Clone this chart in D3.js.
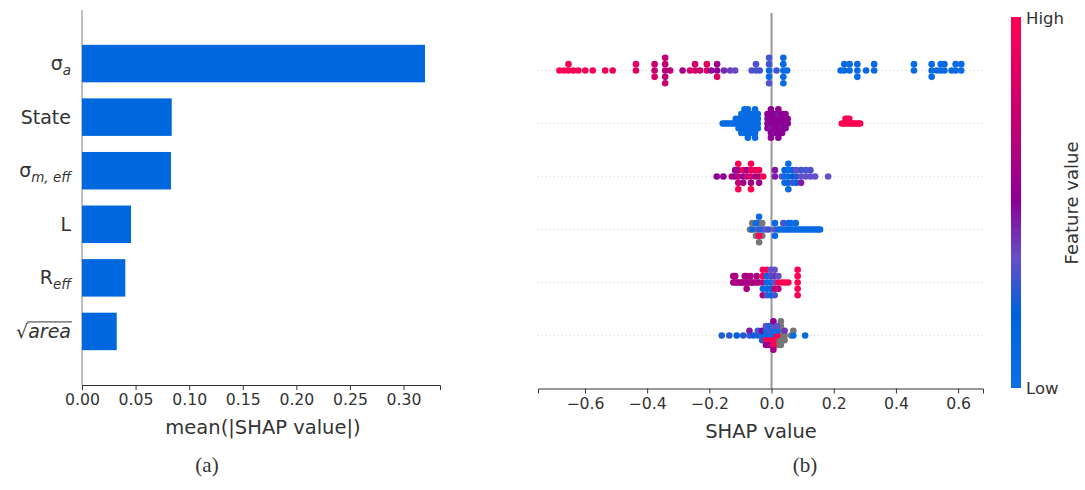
<!DOCTYPE html>
<html>
<head>
<meta charset="utf-8">
<script src="https://cdn.jsdelivr.net/npm/d3@7"></script>
<style>
body { margin: 0; background: #fff; }
text { font-family: "DejaVu Sans", sans-serif; fill: #333; }
</style>
</head>
<body>
<script>
// feature order (top to bottom) and mean |SHAP| for panel (a)
var features = ["sigma_a", "State", "sigma_m_eff", "L", "R_eff", "sqrt_area"];
var meanAbs = [0.320, 0.0837, 0.0830, 0.0457, 0.0404, 0.0324];
var barTicks = [0, 0.05, 0.10, 0.15, 0.20, 0.25, 0.30];
var shapTicks = [-0.6, -0.4, -0.2, 0.0, 0.2, 0.4, 0.6];

// panel (b) points: [shap value, feature value 0 (low) .. 1 (high), null = missing]
var ptsSigmaA = [
  [-0.682,1],[-0.667,1],[-0.653,0.98],[-0.653,0.97],[-0.637,0.97],[-0.621,0.96],[-0.599,0.96],[-0.575,0.95],
  [-0.535,0.93],[-0.511,0.93],[-0.436,0.88],[-0.436,0.88],
  [-0.376,0.72],[-0.376,0.74],[-0.376,0.8],
  [-0.342,0.68],[-0.342,0.72],[-0.342,0.66],[-0.342,0.72],[-0.342,0.74],[-0.326,0.7],
  [-0.286,0.6],[-0.262,0.78],[-0.246,0.8],[-0.246,0.78],[-0.230,0.76],
  [-0.208,0.86],[-0.208,0.84],
  [-0.194,0.48],[-0.175,0.5],[-0.175,0.55],[-0.175,0.85],[-0.153,0.42],
  [-0.133,0.38],[-0.117,0.36],
  [-0.064,0.32],[-0.050,0.3],[-0.050,0.32],[-0.038,0.3],
  [-0.008,0.1],[-0.008,0.3],[-0.008,0.05],[-0.008,0.3],[-0.008,0.32],
  [0.016,0.3],
  [0.038,0.05],[0.038,0.05],[0.038,0.05],[0.038,0.08],[0.038,0.05],[0.050,0.05],
  [0.222,0.05],[0.234,0.05],[0.234,0.05],[0.251,0.05],[0.251,0.05],[0.276,0.05],[0.276,0.05],[0.276,0.05],
  [0.304,0.05],[0.330,0.05],[0.330,0.05],[0.458,0.05],[0.458,0.05],
  [0.515,0.05],[0.515,0.05],[0.515,0.05],[0.531,0.05],[0.544,0.05],[0.544,0.05],[0.556,0.05],[0.556,0.05],
  [0.579,0.05],[0.592,0.05],[0.592,0.05],[0.610,0.05],[0.610,0.05]
];
var ptsState = [
  [-0.157,0.05],[-0.150,0.05],[-0.143,0.05],[-0.136,0.05],[-0.129,0.05],[-0.122,0.05],[-0.115,0.05],[-0.115,0.05],
  [-0.106,0.05],[-0.106,0.05],[-0.106,0.05],
  [-0.097,0.05],[-0.097,0.05],[-0.097,0.05],[-0.097,0.05],[-0.097,0.05],
  [-0.087,0.05],[-0.087,0.05],[-0.087,0.05],[-0.087,0.05],[-0.087,0.05],[-0.087,0.05],
  [-0.076,0.05],[-0.076,0.05],[-0.076,0.05],[-0.076,0.05],[-0.076,0.05],[-0.076,0.05],[-0.076,0.05],
  [-0.064,0.05],[-0.064,0.05],[-0.064,0.05],[-0.064,0.05],[-0.064,0.05],
  [-0.053,0.05],[-0.053,0.05],[-0.053,0.05],[-0.053,0.05],[-0.053,0.05],[-0.053,0.05],[-0.053,0.05],
  [-0.044,0.05],[-0.044,0.05],[-0.044,0.05],[-0.044,0.05],
  [-0.013,0.5],[-0.013,0.48],[-0.013,0.5],[-0.013,0.52],
  [-0.002,0.5],[-0.002,0.5],[-0.002,0.46],[-0.002,0.5],[-0.002,0.52],[-0.002,0.5],[-0.002,0.5],
  [0.010,0.5],[0.010,0.5],[0.010,0.54],[0.010,0.5],[0.010,0.48],
  [0.022,0.5],[0.022,0.5],[0.022,0.5],[0.022,0.46],[0.022,0.5],[0.022,0.52],[0.022,0.5],
  [0.034,0.5],[0.034,0.5],[0.034,0.48],[0.034,0.5],[0.034,0.5],
  [0.045,0.5],[0.045,0.5],[0.045,0.5],[0.045,0.52],
  [0.052,0.5],[0.052,0.5],
  [0.226,1],[0.232,1],[0.238,1],[0.238,1],[0.244,1],[0.244,1],[0.250,1],[0.250,1],
  [0.256,1],[0.262,1],[0.268,1],[0.274,1],[0.280,1],[0.285,1]
];
var ptsSigmaMeff = [
  [-0.176,0.5],[-0.155,0.5],[-0.128,0.65],[-0.117,0.5],[-0.117,0.55],
  [-0.107,0.7],[-0.107,0.6],[-0.107,0.7],[-0.107,1],[-0.107,1],
  [-0.091,0.5],[-0.091,0.95],[-0.091,0.6],
  [-0.079,0.75],[-0.079,0.55],
  [-0.066,0.8],[-0.066,0.9],[-0.066,0.55],[-0.066,1],[-0.066,1],
  [-0.052,0.6],[-0.052,0.9],
  [-0.040,0.6],[-0.040,0.95],[-0.040,0.55],
  [-0.027,1],
  [0.011,0.45],[0.011,0.45],[0.033,0.35],
  [0.042,0.05],[0.042,0.1],[0.042,0.05],
  [0.054,0.05],[0.054,0.05],[0.054,0.1],[0.054,0.05],[0.054,0.05],
  [0.068,0.2],[0.068,0.1],[0.068,0.3],
  [0.080,0.25],[0.080,0.35],[0.080,0.1],
  [0.095,0.35],[0.095,0.3],[0.095,0.45],
  [0.110,0.35],[0.110,0.3],[0.125,0.35],[0.125,0.32],[0.140,0.35],[0.182,0.35]
];
var ptsL = [
  [-0.069,null],[-0.062,0.05],[-0.062,null],
  [-0.050,null],[-0.050,0.05],[-0.050,null],
  [-0.040,0.3],[-0.040,null],[-0.040,1],[-0.040,0.05],[-0.040,null],
  [-0.030,0.05],[-0.030,null],[-0.030,null],
  [-0.020,0.35],[-0.010,0.3],
  [0.011,0.35],[0.011,0.05],[0.011,0.05],
  [0.022,0.05],[0.030,0.05],[0.038,0.05],[0.038,0.3],[0.046,0.05],[0.054,0.05],[0.054,0.05],
  [0.062,0.05],[0.062,0.05],[0.070,0.05],[0.078,0.05],[0.078,0.05],[0.086,0.05],
  [0.094,0.05],[0.102,0.05],[0.110,0.05],[0.118,0.05],[0.126,0.05],[0.134,0.05],
  [0.142,0.05],[0.150,0.05],[0.156,0.05]
];
var ptsReff = [
  [-0.123,0.62],[-0.123,0.62],[-0.117,0.62],[-0.117,0.62],[-0.110,0.62],[-0.104,0.62],[-0.098,0.62],
  [-0.092,0.62],[-0.086,0.62],[-0.086,0.62],[-0.080,0.62],[-0.080,0.62],[-0.080,0.62],[-0.074,0.62],
  [-0.068,0.62],[-0.068,0.62],[-0.062,0.62],[-0.056,0.62],[-0.048,0.62],[-0.048,0.62],[-0.040,0.62],
  [-0.028,0.7],[-0.028,1],[-0.028,0.05],[-0.028,1],[-0.028,0.65],
  [-0.015,0.05],[-0.015,0.1],[-0.015,0.05],[-0.015,1],[-0.015,0.3],
  [-0.003,0.05],[-0.003,0.3],[-0.003,0.05],[-0.003,0.35],[-0.003,0.05],
  [0.010,0.35],[0.010,0.4],[0.010,0.7],[0.010,0.35],[0.010,0.3],
  [0.022,1],[0.022,0.35],[0.022,0.7],
  [0.034,1],[0.044,1],[0.054,1],
  [0.084,1],[0.084,1],[0.084,1],[0.084,1],[0.084,1]
];
var ptsSqrtArea = [
  [-0.160,0.25],[-0.136,0.25],[-0.112,0.2],[-0.091,0.25],[-0.071,0.3],[-0.071,0.45],
  [-0.058,0.2],[-0.044,0.25],[-0.044,0.3],
  [-0.030,0.05],[-0.030,0.5],[-0.030,0.25],
  [-0.018,0.05],[-0.018,0.05],[-0.018,1],[-0.018,0.35],[-0.018,0.55],
  [-0.006,0.05],[-0.006,0.3],[-0.006,1],[-0.006,0.05],[-0.006,0.55],
  [0.006,0.05],[0.006,0.05],[0.006,1],[0.006,0.35],[0.006,1],[0.006,0.5],[0.006,0.6],
  [0.018,1],[0.018,0.05],[0.018,null],[0.018,0.35],[0.018,null],
  [0.030,null],[0.030,null],[0.030,null],[0.030,null],[0.030,null],[0.030,null],
  [0.042,null],[0.042,0.4],[0.042,null],
  [0.063,null],[0.070,0.05],[0.070,null],[0.108,0.05]
];
var shapPoints = [ptsSigmaA, ptsState, ptsSigmaMeff, ptsL, ptsReff, ptsSqrtArea];

// label pieces: [text, kind] 0 = normal, 1 = subscript, 2 = under the radical
var labelParts = [
  [["σ", 0], ["a", 1]],
  [["State", 0]],
  [["σ", 0], ["m, eff", 1]],
  [["L", 0]],
  [["R", 0], ["eff", 1]],
  [["√", 0], ["area", 2]]
];

var svg = d3.select("body").append("svg")
    .attr("width", 1085)
    .attr("height", 490);

var N = features.length;

//---------------- panel (a): bar chart ----------------
var xa = d3.scaleLinear().domain([0, 0.334]).range([82, 440]);
var ya = d3.scaleLinear().domain([-1, N]).range([385, 10]);

svg.append("line")
    .attr("x1", xa(0)).attr("x2", xa(0))
    .attr("y1", ya(N)).attr("y2", ya(-1))
    .attr("stroke", "#aaa").attr("stroke-width", 1.5);

svg.selectAll(".bar")
    .data(meanAbs)
    .enter().append("rect")
    .attr("class", "bar")
    .attr("x", xa(0))
    .attr("y", function(d, i) { return ya(N - 1 - i + 0.35); })
    .attr("width", function(d) { return xa(d) - xa(0); })
    .attr("height", ya(0) - ya(0.7))
    .attr("fill", "#0068df");

var axA = svg.append("g")
    .attr("transform", "translate(0," + ya(-1) + ")")
    .call(d3.axisBottom(xa).tickValues(barTicks).tickFormat(d3.format(".2f")).tickSize(5).tickPadding(4));
axA.select(".domain").attr("stroke", "#333");
axA.selectAll(".tick line").attr("stroke", "#333");
axA.selectAll(".tick text").style("font-size", "15.7px").attr("fill", "#333");

svg.append("text")
    .attr("x", 263).attr("y", 434)
    .attr("text-anchor", "middle")
    .style("font-size", "19.5px")
    .text("mean(|SHAP value|)");

// feature labels with subscripts
labelParts.forEach(function(parts, i) {
    var t = svg.append("text")
        .attr("x", 71)
        .attr("y", ya(N - 1 - i) + 6.5)
        .attr("text-anchor", "end")
        .style("font-size", "19px");
    parts.forEach(function(p) {
        var sp = t.append("tspan").text(p[0]);
        if (p[1] == 1) sp.attr("dy", 5).style("font-size", "13.5px").style("font-style", "italic");
        if (p[1] == 2) sp.style("font-style", "italic").attr("class", "over");
    });
    var ov = t.select(".over");
    if (!ov.empty()) {
        var len = ov.node().getComputedTextLength();
        svg.append("line")
            .attr("x1", 71 - len - 1).attr("x2", 71 + 1)
            .attr("y1", ya(N - 1 - i) - 9.5).attr("y2", ya(N - 1 - i) - 9.5)
            .attr("stroke", "#333").attr("stroke-width", 1);
    }
});

//---------------- panel (b): beeswarm ----------------
var xb = d3.scaleLinear().domain([-0.751, 0.680]).range([538, 983]);
var yb = d3.scaleLinear().domain([-1, N]).range([388.5, 17.5]);

var fvColor = d3.scaleLinear()
    .domain([0, 0.2, 0.35, 0.5, 0.7, 1])
    .range(["#0a6ee6", "#0060dc", "#6450c8", "#8c0096", "#c00074", "#ff0052"]);

// shap-style vertical layering within bins
function swarm(pts) {
    var vals = pts.map(function(p) { return p[0]; });
    var lo = d3.min(vals), hi = d3.max(vals);
    var quant = vals.map(function(v) { return Math.round(100 * (v - lo) / (hi - lo + 1e-8)); });
    var order = d3.range(pts.length).sort(function(a, b) { return quant[a] - quant[b] || a - b; });
    var ys = pts.map(function() { return 0; }), layer = 0, last = -1;
    order.forEach(function(i) {
        if (quant[i] !== last) layer = 0;
        ys[i] = Math.ceil(layer / 2) * ((layer % 2) * 2 - 1);
        layer++;
        last = quant[i];
    });
    var k = 0.9 * 0.4 / (d3.max(ys) + 1);
    return pts.map(function(p, i) { return {shap: p[0], fv: p[1], dy: ys[i] * k}; });
}

// dotted row guides
svg.selectAll(".guide")
    .data(features)
    .enter().append("line")
    .attr("x1", 538).attr("x2", 983)
    .attr("y1", function(d, i) { return yb(N - 1 - i); })
    .attr("y2", function(d, i) { return yb(N - 1 - i); })
    .attr("stroke", "#d4d4d4").attr("stroke-width", 1)
    .attr("stroke-dasharray", "1,3");

svg.append("line")
    .attr("x1", xb(0)).attr("x2", xb(0))
    .attr("y1", 13).attr("y2", yb(-1))
    .attr("stroke", "#999").attr("stroke-width", 2);

shapPoints.forEach(function(pts, i) {
    var pos = N - 1 - i;
    var sw = swarm(pts);
    var nan = sw.filter(function(d) { return d.fv === null; });
    var col = sw.filter(function(d) { return d.fv !== null; });
    svg.append("g").selectAll("circle")
        .data(nan.concat(col))
        .enter().append("circle")
        .attr("cx", function(d) { return xb(d.shap); })
        .attr("cy", function(d) { return yb(pos + d.dy); })
        .attr("r", 3.3)
        .attr("fill", function(d) { return d.fv === null ? "#777" : fvColor(d.fv); });
});

var axB = svg.append("g")
    .attr("transform", "translate(0," + yb(-1) + ")")
    .call(d3.axisBottom(xb).tickValues(shapTicks).tickFormat(d3.format(".1f")).tickSize(5).tickPadding(4));
axB.select(".domain").attr("stroke", "#333");
axB.selectAll(".tick line").attr("stroke", "#333");
axB.selectAll(".tick text").style("font-size", "15.7px").attr("fill", "#333");

svg.append("text")
    .attr("x", 761).attr("y", 438)
    .attr("text-anchor", "middle")
    .style("font-size", "19.5px")
    .text("SHAP value");

// colour bar
var grad = svg.append("defs").append("linearGradient")
    .attr("id", "fvgrad")
    .attr("x1", 0).attr("y1", 1).attr("x2", 0).attr("y2", 0);
d3.range(0, 1.0001, 0.05).forEach(function(s) {
    grad.append("stop").attr("offset", s).attr("stop-color", fvColor(s));
});
svg.append("rect")
    .attr("x", 1011).attr("y", 17)
    .attr("width", 10).attr("height", 371)
    .attr("fill", "url(#fvgrad)");

svg.append("text").attr("x", 1026).attr("y", 18).attr("dy", "0.35em")
    .style("font-size", "16.5px").text("High");
svg.append("text").attr("x", 1026).attr("y", 388).attr("dy", "0.35em")
    .style("font-size", "16.5px").text("Low");
svg.append("text")
    .attr("transform", "translate(1072,203) rotate(-90)")
    .attr("text-anchor", "middle").attr("dy", "0.35em")
    .style("font-size", "18px")
    .text("Feature value");

// captions
svg.append("text").attr("x", 207).attr("y", 472).attr("text-anchor", "middle")
    .style("font-family", "'Liberation Serif', serif").style("font-size", "21px").attr("fill", "#000")
    .text("(a)");
svg.append("text").attr("x", 805).attr("y", 472).attr("text-anchor", "middle")
    .style("font-family", "'Liberation Serif', serif").style("font-size", "21px").attr("fill", "#000")
    .text("(b)");
</script>
</body>
</html>
